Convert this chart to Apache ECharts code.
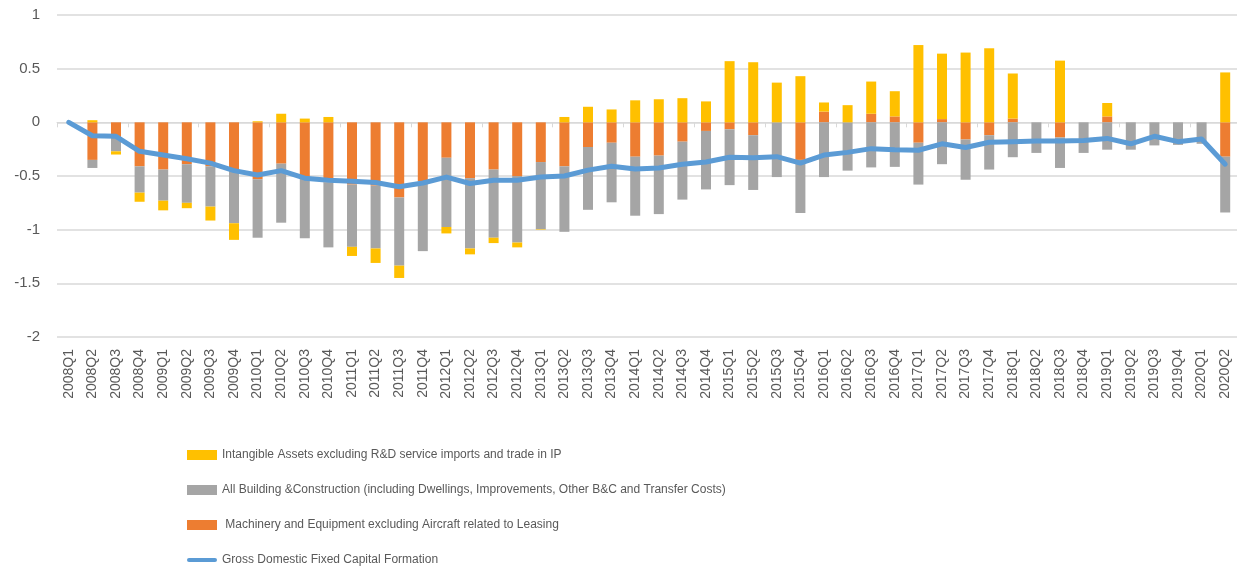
<!DOCTYPE html>
<html>
<head>
<meta charset="utf-8">
<script src="https://cdn.jsdelivr.net/npm/echarts@6/dist/echarts.min.js"></script>
<style>
  html, body { margin: 0; padding: 0; background: #fff; }
  #chart { width: 1237px; height: 572px; }
</style>
</head>
<body>
<div id="chart"></div>
<script>
// quarters 2008Q1 .. 2020Q2
const categories = []
for (let y = 2008; y <= 2020; y++) {
  for (let q = 1; q <= 4; q++) {
    if (y === 2020 && q > 2) break
    categories.push(y + 'Q' + q)
  }
}

// Machinery and Equipment excluding Aircraft related to Leasing
const machinery = [
  0, -0.35, -0.14, -0.41, -0.44, -0.39, -0.41, -0.46, -0.53, -0.385,
  -0.52, -0.56, -0.58, -0.59, -0.70, -0.55, -0.33, -0.52, -0.44, -0.50,
  -0.37, -0.41, -0.23, -0.19, -0.32, -0.31, -0.18, -0.08, -0.065, -0.12,
  0, -0.35, 0.10, 0, 0.08, 0.055, -0.19, 0.03, -0.16, -0.12,
  0.035, 0, -0.14, 0, 0.055, 0, 0, 0, 0, -0.32,
]

// All Building & Construction
const building = [
  0, -0.075, -0.13, -0.245, -0.29, -0.36, -0.375, -0.48, -0.545, -0.55,
  -0.56, -0.605, -0.58, -0.585, -0.635, -0.65, -0.645, -0.655, -0.635, -0.62,
  -0.625, -0.61, -0.585, -0.555, -0.55, -0.545, -0.54, -0.545, -0.52, -0.51,
  -0.51, -0.495, -0.51, -0.45, -0.42, -0.415, -0.39, -0.39, -0.375, -0.32,
  -0.325, -0.285, -0.285, -0.285, -0.255, -0.255, -0.215, -0.21, -0.20, -0.52,
]

// Intangible Assets excluding R&D service imports and trade in IP
const intangible = [
  0, 0.02, -0.03, -0.085, -0.09, -0.05, -0.13, -0.155, 0.01, 0.08,
  0.035, 0.05, -0.085, -0.135, -0.115, 0, -0.06, -0.055, -0.05, -0.045,
  -0.005, 0.05, 0.145, 0.12, 0.205, 0.215, 0.225, 0.195, 0.57, 0.56,
  0.37, 0.43, 0.085, 0.16, 0.30, 0.235, 0.72, 0.61, 0.65, 0.69,
  0.42, 0, 0.575, 0, 0.125, 0, 0, 0, 0, 0.465,
]

// Gross Domestic Fixed Capital Formation
const gross = [
  0, -0.125, -0.13, -0.27, -0.305, -0.34, -0.38, -0.45, -0.49, -0.45,
  -0.52, -0.54, -0.55, -0.56, -0.60, -0.565, -0.51, -0.57, -0.54, -0.54,
  -0.51, -0.50, -0.445, -0.41, -0.435, -0.425, -0.39, -0.37, -0.325, -0.33,
  -0.32, -0.38, -0.305, -0.28, -0.245, -0.255, -0.26, -0.20, -0.235, -0.185,
  -0.18, -0.175, -0.175, -0.17, -0.15, -0.20, -0.13, -0.18, -0.155, -0.39,
]

const yTicks = [1, 0.5, 0, -0.5, -1, -1.5, -2]

const textColor = '#595959'
const gridColor = '#d9d9d9'
const fontFamily = 'Liberation Sans, Arial, sans-serif'

const names = {
  intangible: 'Intangible Assets excluding R&D service imports and trade in IP',
  building: 'All Building &Construction (including Dwellings, Improvements, Other B&C and Transfer Costs)',
  machinery: ' Machinery and Equipment excluding Aircraft related to Leasing',
  gross: 'Gross Domestic Fixed Capital Formation',
}

// thin rounded bar used as the legend mark of the line
const lineIcon = 'path://M2,0 L28,0 A2,2 0 0 1 28,4 L2,4 A2,2 0 0 1 2,0 Z'

const chart = echarts.init(document.getElementById('chart'), null, { renderer: 'canvas' })

const barCommon = {
  type: 'bar',
  stack: 'total',
  barWidth: 10,
  xAxisIndex: 0,
  emphasis: { disabled: true },
}

const options = {
  backgroundColor: '#fff',
  animation: false,
  textStyle: { fontFamily: fontFamily },
  grid: {
    left: 57,
    right: 0,
    top: 15,
    bottom: 235,
  },
  legend: {
    orient: 'vertical',
    left: 187,
    top: 445,
    padding: 0,
    itemGap: 15,
    itemWidth: 30,
    itemHeight: 10,
    textStyle: {
      color: textColor,
      fontSize: 12,
      lineHeight: 20,
      fontFamily: fontFamily,
    },
    data: [
      { name: names.intangible, icon: 'rect' },
      { name: names.building, icon: 'rect' },
      { name: names.machinery, icon: 'rect' },
      { name: names.gross, icon: lineIcon, itemStyle: { color: '#5b9bd5' } },
    ],
  },
  xAxis: [
    {
      // axis line at zero with the tick marks
      type: 'category',
      data: categories,
      axisLine: { onZero: true, lineStyle: { color: gridColor, width: 1 } },
      axisTick: { show: true, length: 5, lineStyle: { color: gridColor } },
      axisLabel: { show: false },
    },
    {
      // labels at the bottom of the plot
      type: 'category',
      data: categories,
      position: 'bottom',
      axisLine: { show: false, onZero: false },
      axisTick: { show: false },
      axisLabel: {
        show: true,
        rotate: 90,
        interval: 0,
        margin: 12,
        color: textColor,
        fontSize: 14,
        fontFamily: fontFamily,
      },
    },
  ],
  yAxis: {
    type: 'value',
    min: -2,
    max: 1,
    interval: 0.5,
    axisLine: { show: false },
    axisTick: { show: false },
    splitLine: { show: true, lineStyle: { color: gridColor, width: 1.5 } },
    axisLabel: {
      color: textColor,
      fontSize: 15,
      margin: 17,
      fontFamily: fontFamily,
      formatter: v => (yTicks.indexOf(v) >= 0 ? String(v) : ''),
    },
  },
  series: [
    { ...barCommon, name: names.machinery, data: machinery, itemStyle: { color: '#ed7d31' } },
    { ...barCommon, name: names.building, data: building, itemStyle: { color: '#a5a5a5' } },
    { ...barCommon, name: names.intangible, data: intangible, itemStyle: { color: '#ffc000' } },
    {
      type: 'line',
      name: names.gross,
      data: gross,
      xAxisIndex: 0,
      symbol: 'none',
      z: 5,
      lineStyle: { color: '#5b9bd5', width: 5, cap: 'round', join: 'round' },
      itemStyle: { color: '#5b9bd5' },
      emphasis: { disabled: true },
    },
  ],
}

chart.setOption(options)
</script>
</body>
</html>
